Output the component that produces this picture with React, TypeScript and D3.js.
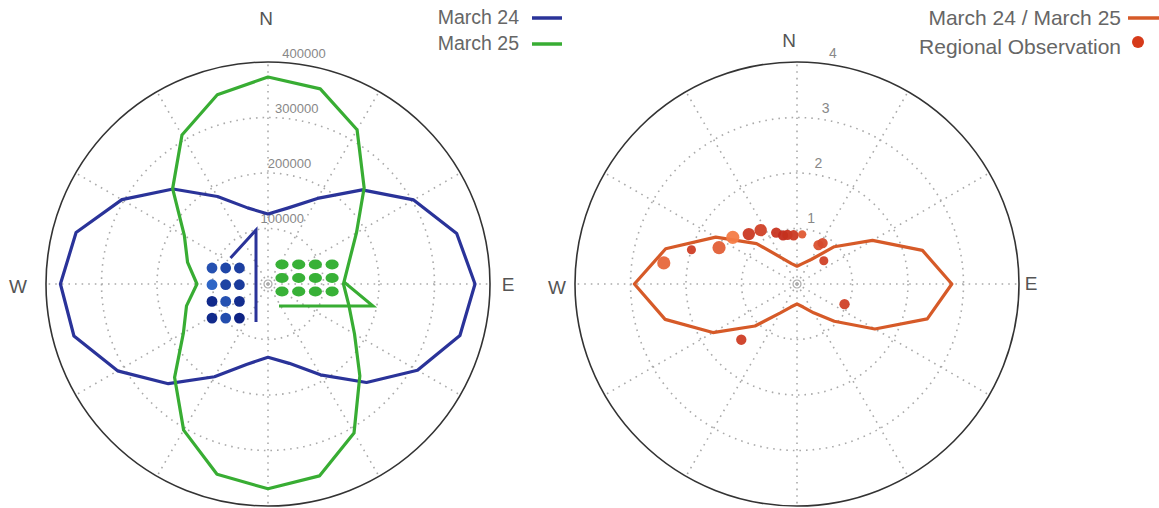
import React from "react";
import * as d3 from "d3";

// ---- data ----
const directions = [0, 15, 30, 45, 60, 75, 90, 105, 120, 135, 150, 165, 180, 195, 210, 225, 240, 255, 270, 285, 300, 315, 330, 345];
const march24 = [126000, 142000, 178000, 240000, 303000, 352000, 373000, 358000, 311000, 251000, 189000, 148000, 132000, 150000, 193000, 254000, 313000, 362000, 374000, 358000, 304000, 242000, 182000, 142000];
const march25 = [373000, 364000, 321000, 245000, 184000, 151000, 136000, 151000, 180000, 234000, 310000, 358000, 369000, 355000, 304000, 238000, 176000, 152000, 128000, 150000, 174000, 243000, 310000, 353000];
const ratio = [0.32, 0.38, 0.51, 0.95, 1.57, 2.34, 2.79, 2.43, 1.62, 0.95, 0.6, 0.43, 0.36, 0.43, 0.6, 1.07, 1.75, 2.46, 2.93, 2.45, 1.69, 1.03, 0.54, 0.38];
const leftTicks = [100000, 200000, 300000, 400000];
const rightTicks = [1, 2, 3, 4];
const spokes = [0, 30, 60, 90, 120, 150, 180, 210, 240, 270, 300, 330];
const obsBearing = [279, 288, 295, 306, 316, 326, 338, 344, 349, 356, 6, 29, 32, 49, 113, 225];
const obsValue = [2.43, 2.0, 1.55, 1.43, 1.25, 1.17, 1.0, 0.91, 0.9, 0.88, 0.9, 0.8, 0.87, 0.64, 0.93, 1.42];
const obsMag = [3.2, 2.2, 3.2, 3.2, 3.0, 3.0, 2.5, 2.5, 2.5, 2.5, 2.0, 2.5, 2.5, 2.2, 2.5, 2.5];
const obsDepth = [0.25, 0.75, 0.35, 0.0, 0.8, 0.7, 0.85, 0.95, 0.9, 0.8, 0.4, 0.5, 0.6, 0.7, 0.7, 0.75];
const blueShade = [0.3, 0.45, 0.55, 0.0, 0.5, 0.6, 0.85, 0.3, 0.8, 0.85, 0.35, 0.95];
const greenShade = [0.5, 0.5, 0.5, 0.5, 0.5, 0.5, 0.5, 0.5, 0.5, 0.5, 0.5, 0.5];

const W = 1159, H = 508;
const R = 222;
const BLUE = "#2a3399";
const GREEN = "#38ad33";
const ORANGE = "#d65a28";
const GRID = "#aaaaaa";
const TXT = "#555";

const rad = (deg: number) => (deg * Math.PI) / 180;

function Grid({ cx, cy, scale, ticks, fmt, fs }: any) {
  const max = ticks[ticks.length - 1];
  return (
    <g transform={`translate(${cx},${cy})`}>
      {ticks.slice(0, -1).map((t: number) => (
        <circle key={t} r={scale(t)} fill="none" stroke={GRID} strokeWidth={1.6} strokeDasharray="1.6 5" />
      ))}
      {spokes.map((a) => {
        const [x, y] = d3.pointRadial(rad(a), R);
        return <line key={a} x1={0} y1={0} x2={x} y2={y} stroke={GRID} strokeWidth={1.6} strokeDasharray="1.6 5" />;
      })}
      <circle r={scale(max)} fill="none" stroke="#333" strokeWidth={1.6} />
      <circle r={4} fill="none" stroke="#aaa" strokeWidth={1.2} />
      {ticks.map((t: number) => {
        const [x, y] = d3.pointRadial(rad(7.5), scale(t));
        return (
          <text key={t} x={x + 7} y={y - 6} textAnchor="middle" fontSize={fs} fill="#888" fontFamily="Liberation Sans, Arial, sans-serif">
            {fmt(t)}
          </text>
        );
      })}
    </g>
  );
}

export default function App() {
  const rL = d3.scaleLinear().domain([0, 400000]).range([0, R]);
  const rR = d3.scaleLinear().domain([0, 4]).range([0, R]);
  const lineL = d3
    .lineRadial<number>()
    .angle((_, i) => rad(directions[i]))
    .radius((d) => rL(d))
    .curve(d3.curveLinearClosed);
  const lineR = d3
    .lineRadial<number>()
    .angle((_, i) => rad(directions[i]))
    .radius((d) => rR(d))
    .curve(d3.curveLinearClosed);
  const size = d3.scaleLinear().domain([0, 3.2]).range([0, 6.6]);
  const depthColor = d3.scaleLinear<string>().domain([0, 1]).range(["#f47c46", "#c0281a"]).interpolate(d3.interpolateRgb);
  const blueColor = d3.scaleLinear<string>().domain([0, 1]).range(["#2f66c6", "#0c1f80"]);
  const greenColor = d3.scaleLinear<string>().domain([0, 1]).range(["#4cc24a", "#24a024"]);

  const cxL = 268, cxR = 797, cy = 284;
  const font = "Liberation Sans, Arial, sans-serif";

  return (
    <svg width={W} height={H} style={{ position: "absolute", left: 0, top: 0, background: "#fff" }} fontFamily={font}>
      {/* left chart */}
      <Grid cx={cxL} cy={cy} scale={rL} ticks={leftTicks} fmt={(t: number) => String(t)} fs={13} />
      <g transform={`translate(${cxL},${cy})`}>
        <path d={lineL(march24) || ""} fill="none" stroke={BLUE} strokeWidth={3.2} strokeLinejoin="round" />
        <path d={lineL(march25) || ""} fill="none" stroke={GREEN} strokeWidth={3.2} strokeLinejoin="round" />
        {/* blue glyph */}
        {blueShade.map((s, i) => (
          <circle key={i} cx={-56 + (i % 3) * 13.7} cy={-16 + Math.floor(i / 3) * 16.7} r={5.4} fill={blueColor(s)} />
        ))}
        <path d="M-37.5,-26 L-12,-54 L-12,38" fill="none" stroke={BLUE} strokeWidth={3} />
        {/* green glyph */}
        {greenShade.map((s, i) => (
          <ellipse key={i} cx={14 + (i % 4) * 16.7} cy={-19.5 + Math.floor(i / 4) * 13.5} rx={6.6} ry={5} fill={greenColor(s)} />
        ))}
        <path d="M11,22 L105,22 L76,-2" fill="none" stroke={GREEN} strokeWidth={3} />
      </g>
      <text x={266} y={25} textAnchor="middle" fontSize={19} fill={TXT}>N</text>
      <text x={18} y={293} textAnchor="middle" fontSize={19} fill={TXT}>W</text>
      <text x={508} y={291} textAnchor="middle" fontSize={19} fill={TXT}>E</text>

      {/* left legend */}
      <text x={519} y={24} textAnchor="end" fontSize={19.5} fill="#666">March 24</text>
      <line x1={532} x2={562} y1={18} y2={18} stroke={BLUE} strokeWidth={3.5} />
      <text x={519} y={50} textAnchor="end" fontSize={19.5} fill="#666">March 25</text>
      <line x1={532} x2={562} y1={44} y2={44} stroke={GREEN} strokeWidth={3.5} />

      {/* right chart */}
      <Grid cx={cxR} cy={cy} scale={rR} ticks={rightTicks} fmt={(t: number) => String(t)} fs={14} />
      <g transform={`translate(${cxR},${cy})`}>
        <path d={lineR(ratio) || ""} fill="none" stroke={ORANGE} strokeWidth={3.2} strokeLinejoin="round" />
        {obsBearing.map((b, i) => {
          const [x, y] = d3.pointRadial(rad(b), rR(obsValue[i]));
          return <circle key={i} cx={x} cy={y} r={size(obsMag[i])} fill={depthColor(obsDepth[i])} opacity={0.95} />;
        })}
      </g>
      <text x={789} y={47} textAnchor="middle" fontSize={19} fill={TXT}>N</text>
      <text x={557} y={294} textAnchor="middle" fontSize={19} fill={TXT}>W</text>
      <text x={1031} y={290} textAnchor="middle" fontSize={19} fill={TXT}>E</text>

      {/* right legend */}
      <text x={1121} y={24.5} textAnchor="end" fontSize={21} fill="#666">March 24 / March 25</text>
      <line x1={1128} x2={1159} y1={18} y2={18} stroke={ORANGE} strokeWidth={3.5} />
      <text x={1121} y={54} textAnchor="end" fontSize={21} fill="#666">Regional Observation</text>
      <circle cx={1138} cy={42} r={6} fill="#d63a1a" />
    </svg>
  );
}
